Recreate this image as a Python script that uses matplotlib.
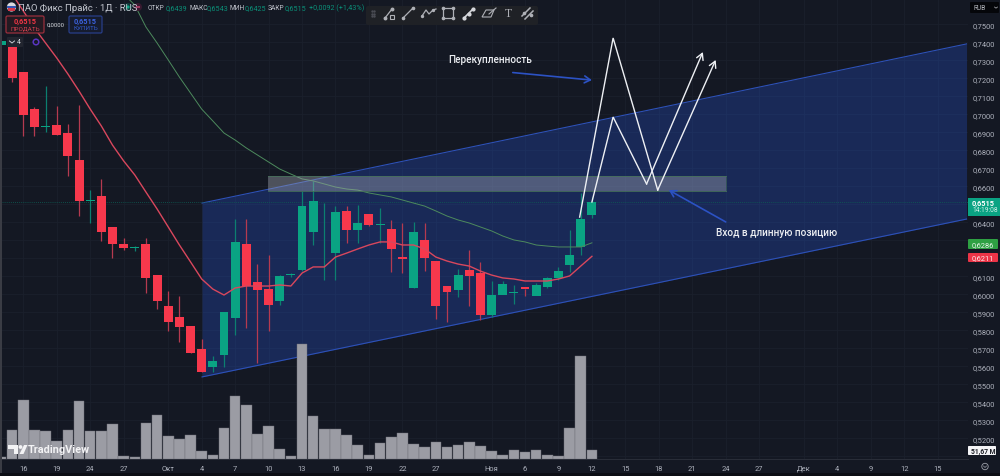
import numpy as np
import matplotlib
matplotlib.use("Agg")
import matplotlib.pyplot as plt
from matplotlib.patches import Rectangle, FancyBboxPatch, Polygon, Circle

plt.rcParams['font.family'] = ['Roboto', 'DejaVu Sans']

# ---------- data (prices in RUB, volume in millions) ----------
first_bar = -1
opens = [.7374,.7235,.7029,.6929,.6941,.6896,.6746,.6518,.6546,.6374,.6279,.6257,.6279,.6107,.5935,.5874,.5824,.5696,
         .5596,.5663,.5868,.6279,.6068,.6029,.5963,.6107,.6135,.6346,.6185,.6229,.6463,.6357,.6446,.6385,.6363,.6207,
         .6035,.6302,.6185,.6046,.6024,.6135,.6118,.5885,.5996,.6007,.6041,.5990,.6041,.6091,.6163,.6263,.6439]
closes = [.7202,.6996,.6929,.6935,.6885,.6768,.6518,.6524,.6346,.6279,.6257,.6263,.6091,.5963,.5846,.5818,.5674,.5568,
          .5629,.5902,.6291,.6046,.6024,.5941,.6102,.6113,.6490,.6518,.6185,.6457,.6357,.6396,.6385,.6391,.6252,.6196,
          .6346,.6202,.5935,.6013,.6107,.6102,.5885,.5996,.6057,.6013,.6029,.6052,.6091,.6129,.6218,.6418,.6515]
highs = [.7400,.7235,.7041,.7157,.7046,.6946,.7052,.6579,.6641,.6374,.6313,.6270,.6313,.6107,.6018,.5990,.5752,.5752,
         .5657,.5902,.6418,.6418,.6168,.6218,.6107,.6120,.6574,.6630,.6507,.6490,.6490,.6496,.6446,.6480,.6413,.6396,
         .6400,.6396,.6185,.6046,.6140,.6246,.6179,.6074,.6074,.6052,.6029,.6063,.6096,.6152,.6357,.6563,.6543]
lows = [.7180,.6879,.6879,.6902,.6885,.6657,.6435,.6396,.6296,.6202,.6246,.6241,.6007,.5918,.5796,.5735,.5674,.5568,
        .5568,.5596,.5774,.5813,.5618,.5796,.5941,.6096,.6129,.6274,.6079,.6079,.6285,.6285,.6379,.6285,.6124,.6118,
        .6035,.6129,.5863,.5846,.5985,.5935,.5857,.5874,.6007,.5946,.5990,.6002,.6035,.6079,.6124,.6218,.6425]
ma_fast = [.7668,.7574,.7479,.7396,.7313,.7224,.7129,.7029,.6935,.6829,.6741,.6663,.6568,.6474,.6374,.6274,.6180,.6085,
           .6029,.5996,.6035,.6046,.6046,.6046,.6052,.6046,.6118,.6152,.6152,.6207,.6229,.6252,.6274,.6291,.6291,.6274,
           .6274,.6252,.6207,.6185,.6168,.6157,.6129,.6107,.6091,.6085,.6074,.6074,.6074,.6085,.6102,.6157,.6211]
ma_slow_first = 9
ma_slow = [.7668,.7607,.7485,.7396,.7302,.7207,.7118,.7029,.6963,.6896,.6857,.6813,.6774,.6735,.6696,.6668,.6641,.6630,
           .6613,.6596,.6585,.6579,.6563,.6552,.6541,.6524,.6507,.6490,.6463,.6435,.6413,.6396,.6374,.6352,.6324,.6302,
           .6291,.6274,.6268,.6263,.6263,.6263,.6286]
volume_first = -2
volume = [11,158,321,158,152,98,158,316,152,152,190,16,11,196,239,125,109,131,44,22,169,343,294,136,180,54,16,626,234,163,
          163,131,76,22,87,120,141,82,65,92,65,76,92,71,44,22,49,38,49,22,16,169,560,51.67]
price_ticks = [0.51+0.01*i for i in range(25)]
hidden_price_labels = ['0,6200', '0,6300', '0,6500', '0,5100']  # covered by the value tags
time_pos = [0,3,6,9,13,16,19,22,25,28,31,34,37,42,45,48,51,54,57,60,63,66,70,73,76,79,82]
time_labels = ['16','19','24','27','Окт','4','7','10','13','16','19','22','27','Ноя','6','9','12','15',
               '18','21','24','27','Дек','4','9','12','15']

channel_x = [16.03, 84.6]
channel_top = [.6507, .7391]
channel_bot = [.5541, .6418]
zone_x = [21.95, 63.0]
zone_y = [.6574, .6657]
path_a_x = [49.9, 52.9, 56.9, 62.1]
path_a_y = [.6429, .7424, .6579, .7302]
path_b_x = [51.0, 52.9, 55.9, 60.95]
path_b_y = [.6513, .6985, .6613, .7346]
arrow1 = [(43.9, .7232), (51.0, .7190)]
arrow2 = [(63.0, .6402), (57.9, .6579)]
note1 = (38.1, .7307, 'Перекупленность')
note2 = (62.1, .6346, 'Вход в длинную позицию')
last_price = .6515

BG = '#141823'
GRID = '#1b202c'
UP = '#0aa383'
DOWN = '#f7384c'
W, H = 1000, 477
PX_Y0 = 460
AX_W = 968

fig = plt.figure(figsize=(W/100, H/100), dpi=100, facecolor=BG)
ax = fig.add_axes([0, (H-PX_Y0)/H, AX_W/W, PX_Y0/H], facecolor=BG)
ax.set_xlim(-2.09, 84.73)
ax.set_ylim(0.5085, 0.76406)
ax.set_xticks(time_pos)
ax.set_xticklabels(time_labels)
ax.grid(True, color=GRID, lw=0.6, zorder=0)
ax.set_axisbelow(True)
for s in ax.spines.values():
    s.set_visible(False)
ax.spines['bottom'].set_visible(True)
ax.spines['bottom'].set_color('#2a2e39')
ax.spines['bottom'].set_linewidth(0.7)

# channel and zone
ax.fill_between(channel_x, channel_bot, channel_top, color='#2962ff', alpha=0.24, lw=0, zorder=1)
ax.plot(channel_x, channel_top, color='#2d51b8', lw=0.8, zorder=1.5)
ax.plot(channel_x, channel_bot, color='#2d51b8', lw=0.8, zorder=1.5)

# candles
xs = np.arange(len(opens)) + first_bar
for x, o, c, h, l in zip(xs, opens, closes, highs, lows):
    col = UP if c >= o else DOWN
    wick = '#0c7f70' if c >= o else '#b53a50'
    ax.vlines(x, l, h, color=wick, lw=0.9, zorder=3)
    ax.bar(x, abs(c-o), bottom=min(o, c), width=0.8, color=col, lw=0, zorder=4)

# moving averages
ax.plot(xs, ma_fast, color='#d9475d', lw=1.0, zorder=5)
ax.plot(np.arange(len(ma_slow)) + ma_slow_first, ma_slow, color='#4d8a5d', lw=0.7, zorder=5)

ax.axhline(last_price, color='#0d5e55', lw=0.6, ls=(0, (1, 1.5)), zorder=2)

# zone over candles
ax.add_patch(Rectangle((zone_x[0], zone_y[0]), zone_x[1]-zone_x[0], zone_y[1]-zone_y[0],
                       facecolor='#a5a8b3', alpha=0.40, lw=0, zorder=5.5))
ax.plot(zone_x, [zone_y[0]]*2, color='#46705a', lw=0.6, zorder=5.6)
ax.plot(zone_x, [zone_y[1]]*2, color='#46705a', lw=0.6, zorder=5.6)
ax.plot([zone_x[1]]*2, zone_y, color='#46705a', lw=0.4, zorder=5.6)

# white scenario paths
for px, py in ((path_a_x, path_a_y), (path_b_x, path_b_y)):
    ax.plot(px[:-1], py[:-1], color='#eef0f4', lw=1.0, zorder=7, solid_joinstyle='miter')
    ax.annotate('', xy=(px[-1], py[-1]), xytext=(px[-2], py[-2]), zorder=7,
                arrowprops=dict(arrowstyle='->,head_length=0.45,head_width=0.25', color='#eef0f4', lw=1.0,
                                shrinkA=0, shrinkB=0))

# blue arrows and notes
for start, end in (arrow1, arrow2):
    ax.annotate('', xy=end, xytext=start, zorder=7,
                arrowprops=dict(arrowstyle='->,head_length=0.42,head_width=0.25', color='#2c52c4', lw=1.2,
                                shrinkA=0, shrinkB=0))
for nx, ny, txt in (note1, note2):
    ax.text(nx, ny, txt, color='#eceef2', fontsize=7.2, fontweight='medium', va='center', ha='left', zorder=8)

# volume pane
ax2 = ax.twinx()
ax2.set_ylim(0, 460*5.44)
ax2.patch.set_visible(False)
ax2.axis('off')
vx = np.arange(len(volume)) + volume_first
ax2.bar(vx, volume, width=0.95, color='#9b9ca4', edgecolor='#6d6e76', lw=0.3, zorder=3)

# price axis: twinx moved the ticks left, so set them after it
ax.yaxis.tick_right()
ax.set_yticks(price_ticks)
labels = [f'{p:.4f}'.replace('.', ',') for p in price_ticks]
ax.set_yticklabels(['' if s in hidden_price_labels else s for s in labels])
ax.tick_params(axis='y', length=0, pad=3, labelsize=5.4, labelcolor='#aeb2bd')
ax.tick_params(axis='x', length=0, pad=4, labelsize=5.4, labelcolor='#aeb2bd')

# ---------- interface chrome in pixel coordinates ----------
ui = fig.add_axes([0, 0, 1, 1], facecolor='none', zorder=20)
ui.set_xlim(0, W)
ui.set_ylim(H, 0)
ui.axis('off')

def box(x0, y0, x1, y1, fc, ec='none', lw=0.0, r=1.5, alpha=1):
    ui.add_patch(FancyBboxPatch((x0+r, y0+r), x1-x0-2*r, y1-y0-2*r, boxstyle=f'round,pad={r}',
                                facecolor=fc, edgecolor=ec, lw=lw, alpha=alpha))

# left strip
ui.add_patch(Rectangle((0, 0), 1.5, 477, facecolor='#3a3c44', lw=0))
ui.add_patch(Rectangle((0, 474), 1000, 3, facecolor='#0c0e15', lw=0))

# header
ui.add_patch(Circle((11.5, 8), 4.6, facecolor='#d8d8de', lw=0))
ui.add_patch(Rectangle((7.3, 6.6), 8.4, 2.4, facecolor='#3556b5', lw=0))
ui.add_patch(Rectangle((7.7, 9), 7.6, 3.0, facecolor='#d43a4a', lw=0))
ui.text(18, 8.5, 'ПАО Фикс Прайс · 1Д · RUS', color='#c6c9d2', fontsize=6.8, va='center')
ui.add_patch(Circle((128, 8), 4, facecolor='#0e3a3a', lw=0))
ui.add_patch(Circle((128, 8), 1.6, facecolor='#0aa383', lw=0))
ui.add_patch(Circle((138, 8), 4, facecolor='#3a1a30', lw=0))
ui.add_patch(Rectangle((136, 7), 4, 2.4, facecolor='#a03a60', lw=0))
leg = [(148, 'ОТКР', 166, '0,6439'), (189, 'МАКС', 207, '0,6543'), (230, 'МИН', 245, '0,6425'),
       (268, 'ЗАКР', 284.5, '0,6515')]
for lx, lt, vxp, vt in leg:
    ui.text(lx, 8.5, lt, color='#c0c3cc', fontsize=4.8, va='center')
    ui.text(vxp, 8.5, vt, color='#0b8f78', fontsize=5.2, va='center')
ui.text(309, 8.5, '+0,0092 (+1,43%)', color='#0b8f78', fontsize=5.2, va='center')

# sell / buy
box(6, 17, 44, 34, '#241a22', ec='#9a2f3d', lw=0.9)
ui.text(25, 21.5, '0,6515', color='#f23645', fontsize=5.3, ha='center', va='center', fontweight='bold')
ui.text(25, 29, 'ПРОДАТЬ', color='#d2404f', fontsize=4.6, ha='center', va='center')
ui.text(56, 25, '0,0000', color='#d8dae0', fontsize=4.2, ha='center', va='center')
box(69, 17, 102, 34, '#161c2e', ec='#283e88', lw=0.9)
ui.text(85.5, 21.5, '0,6515', color='#3b62e0', fontsize=5.3, ha='center', va='center', fontweight='bold')
ui.text(85.5, 29, 'КУПИТЬ', color='#3258c8', fontsize=4.6, ha='center', va='center')
# events row
box(7, 38, 23, 48, '#22252f', r=1)
ui.plot([9.5, 12, 14.5], [42, 44, 42], color='#c8cad2', lw=0.7)
ui.text(19, 43, '4', color='#d8dae0', fontsize=5, ha='center', va='center')
ui.add_patch(Rectangle((2, 42), 3.5, 4, facecolor='#0aa383', lw=0))
ui.add_patch(Circle((36, 43), 2.8, facecolor='none', edgecolor='#5a35c0', lw=1.1))

# drawing toolbar
box(366, 7, 538, 26, '#1f2126', r=2)
c = '#aeb0b6'
for tx in (372, 373.5):
    ui.plot([tx]*3, [12, 14.5, 17], ls='none', marker='s', ms=0.7, color='#4a4c54')
ui.plot([385, 392], [19, 10], color=c, lw=0.9)
ui.plot([385], [19], 'o', ms=1.8, color=c)
ui.plot([392], [10], 'o', ms=1.8, color=c)
ui.add_patch(Rectangle((389.5, 15.5), 4.5, 4, facecolor='none', edgecolor=c, lw=0.8))
ui.plot([403, 413], [19, 9], color=c, lw=0.9)
ui.plot([403, 413], [19, 9], 'o', ms=1.6, color=c)
ui.plot([422, 426, 429, 433, 436], [17, 11, 15, 11, 10], color=c, lw=0.9)
ui.plot([422, 433], [17, 11], ls='none', marker='o', ms=1.4, color=c)
ui.add_patch(Rectangle((443, 9), 9.5, 9.5, facecolor='none', edgecolor=c, lw=0.9))
ui.plot([443, 452.5, 443, 452.5], [9, 9, 18.5, 18.5], ls='none', marker='o', ms=1.6, color=c)
ui.plot([464, 473], [19, 10], color='#d6d7dc', lw=1.2)
ui.plot([464, 468.5, 473], [19, 14.5, 10], ls='none', marker='o', ms=2.0, color='#d6d7dc')
ui.add_patch(Polygon([(482, 18), (491, 18), (494, 11), (486, 11)], closed=True, facecolor='none', edgecolor=c, lw=0.8))
ui.plot([489, 496], [15, 9], color=c, lw=0.8)
ui.text(508, 14, 'T', color=c, fontsize=8.5, ha='center', va='center', family='Liberation Serif')
ui.plot([522, 530], [17, 9], color=c, lw=1.1)
ui.plot([525, 533], [20, 12], color=c, lw=1.1)
ui.plot([524, 531], [14, 16], ls='none', marker='o', ms=1.6, color=c)

# RUB selector
box(970, 3, 999, 14, '#05060a', r=1)
ui.text(973, 8.5, 'RUB', color='#b4b6bd', fontsize=4.8, va='center')
ui.plot([994.5, 996, 997.5], [8, 9.2, 8], color='#b4b6bd', lw=0.5)

# price tags
ui.add_patch(Rectangle((968, 199), 32, 17.5, facecolor='#0aa383', lw=0))
ui.text(972, 203.8, '0,6515', color='#ffffff', fontsize=5.3, va='center', fontweight='bold')
ui.text(972, 211, '14:19:08', color='#d4f1ea', fontsize=4.8, va='center')
box(968, 240, 998, 250, '#2ea043', r=1)
ui.text(972, 245.2, '0,6286', color='#e8f5ea', fontsize=5.3, va='center')
box(968, 254, 998, 263, '#ec3447', r=1)
ui.text(972, 258.7, '0,6211', color='#fde8ea', fontsize=5.3, va='center')
box(968, 447, 996, 456, '#f4f4f6', r=0.8)
ui.text(971, 451.7, '51,67 M', color='#1a1c24', fontsize=4.9, va='center', fontweight='bold')
ui.add_patch(Circle((985, 467.5), 3.2, facecolor='none', edgecolor='#9ea1aa', lw=0.6))
ui.plot([983.5, 985, 986.5], [467, 468.5, 467], color='#9ea1aa', lw=0.5)

# TradingView logo
lw_c = '#f3f3f5'
ui.add_patch(Polygon([(8, 446), (18, 446), (18, 455), (14, 455), (14, 450), (8, 450)], closed=True, facecolor=lw_c, lw=0))
ui.add_patch(Circle((20.5, 448), 1.9, facecolor=lw_c, lw=0))
ui.add_patch(Polygon([(24, 446), (27.5, 446), (23.5, 455), (19.5, 455)], closed=True, facecolor=lw_c, lw=0))
ui.text(28, 450.5, 'TradingView', color=lw_c, fontsize=7.8, va='center', fontweight='bold')

fig.savefig('out.png', dpi=100, facecolor=BG)
